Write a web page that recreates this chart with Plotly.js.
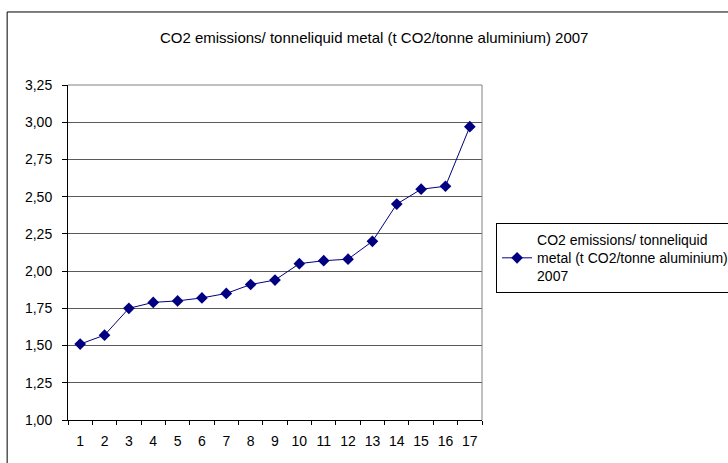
<!DOCTYPE html>
<html>
<head>
<meta charset="utf-8">
<script src="https://cdn.plot.ly/plotly-3.0.1.min.js"></script>
<style>
html,body{margin:0;padding:0;background:#fff;}
#chart{width:728px;height:463px;}
</style>
</head>
<body>
<div id="chart"></div>
<script>
var categories = ["1","2","3","4","5","6","7","8","9","10","11","12","13","14","15","16","17"];
var values = [1.51, 1.57, 1.75, 1.79, 1.80, 1.82, 1.85, 1.91, 1.94, 2.05, 2.07, 2.08, 2.20, 2.45, 2.55, 2.57, 2.97];
var yTicks = [1.00, 1.25, 1.50, 1.75, 2.00, 2.25, 2.50, 2.75, 3.00, 3.25];
var seriesName = "CO2 emissions/ tonneliquid<br>metal (t CO2/tonne aluminium)<br>2007";
var chartTitle = "CO2 emissions/ tonneliquid metal (t CO2/tonne aluminium) 2007";

var trace = {
  x: categories,
  y: values,
  type: 'scatter',
  mode: 'lines+markers',
  name: seriesName,
  cliponaxis: false,
  line: {color: '#000080', width: 1},
  marker: {symbol: 'diamond', size: 9, color: '#000080'}
};

var layout = {
  width: 728,
  height: 463,
  margin: {l: 68, r: 246, t: 85, b: 43, autoexpand: false},
  paper_bgcolor: '#ffffff',
  plot_bgcolor: '#ffffff',
  separators: ',.',
  font: {family: 'Liberation Sans, Arial, sans-serif', size: 14, color: '#000'},
  title: {
    text: chartTitle,
    font: {size: 15, color: '#000'},
    x: 0.514, xanchor: 'center',
    y: 0.918, yanchor: 'middle'
  },
  showlegend: true,
  legend: {
    x: 1.034, xanchor: 'left',
    y: 0.588, yanchor: 'top',
    bordercolor: '#000', borderwidth: 1,
    bgcolor: '#fff',
    font: {size: 14},
    itemwidth: 30,
    tracegroupgap: 0
  },
  xaxis: {
    type: 'category',
    range: [-0.5, categories.length - 0.5],
    autorange: false,
    showgrid: false,
    zeroline: false,
    showline: true,
    linecolor: '#000',
    linewidth: 1,
    ticks: 'outside',
    tickson: 'boundaries',
    ticklen: 4,
    tickcolor: '#000',
    tickangle: 0,
    ticklabelstandoff: 8,
    tickfont: {size: 14},
    fixedrange: true
  },
  yaxis: {
    range: [1.0, 3.25],
    autorange: false,
    tickmode: 'array',
    tickvals: yTicks,
    tickformat: '.2f',
    showgrid: true,
    gridcolor: '#5a5a5a',
    gridwidth: 1,
    zeroline: false,
    showline: true,
    linecolor: '#000',
    linewidth: 1,
    ticks: 'outside',
    ticklen: 5,
    tickcolor: '#000',
    ticklabelstandoff: 7,
    tickfont: {size: 14},
    fixedrange: true
  },
  shapes: [
    {type: 'line', xref: 'paper', yref: 'paper', x0: 0, x1: 1, y0: 1, y1: 1, line: {color: '#808080', width: 1}},
    {type: 'line', xref: 'paper', yref: 'paper', x0: 1, x1: 1, y0: 0, y1: 1, line: {color: '#808080', width: 1}},
    {type: 'rect', xref: 'paper', yref: 'paper', x0: -0.147, x1: 1.7, y0: -0.5, y1: 1.218, line: {color: '#000', width: 1}}
  ]
};

Plotly.newPlot('chart', [trace], layout, {displayModeBar: false, staticPlot: true});
</script>
</body>
</html>
